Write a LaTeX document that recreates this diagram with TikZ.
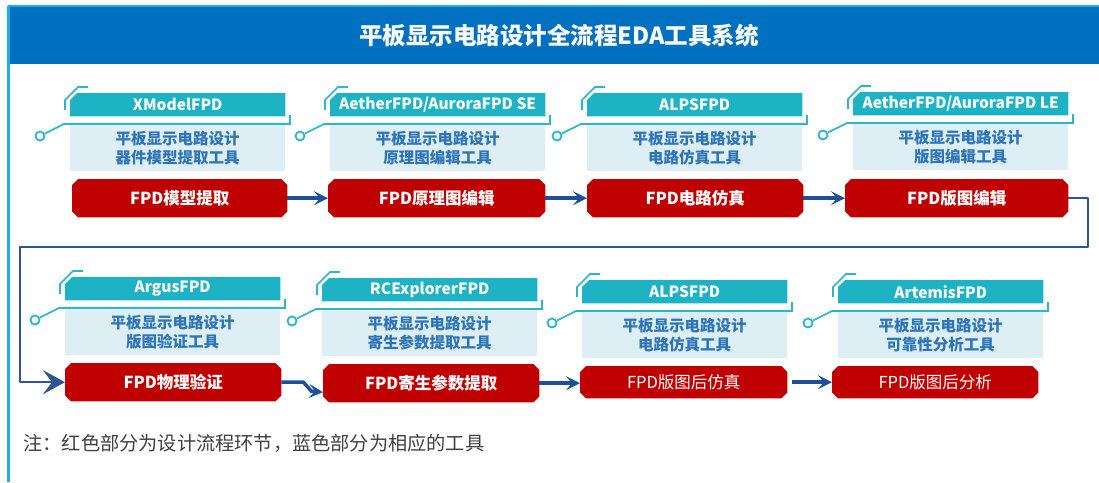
\documentclass[tikz,border=0pt]{standalone}
\usepackage{fontspec}
\setmainfont{Noto Sans CJK SC}
\usetikzlibrary{arrows.meta,calc,backgrounds}
\definecolor{titleblue}{HTML}{0070C0}
\definecolor{frameblue}{HTML}{1CB0EA}
\definecolor{hdrteal}{HTML}{1DB3C4}
\definecolor{lineteal}{HTML}{2BB6C9}
\definecolor{toolbg}{HTML}{DDEEF4}
\definecolor{tooltext}{HTML}{2E75B6}
\definecolor{stepred}{HTML}{C00000}
\definecolor{arrowblue}{HTML}{1F4E9A}
\definecolor{loopblue}{HTML}{2F5597}
\definecolor{notegray}{HTML}{404040}
\tikzset{
  hdr/.style={text=white, minimum height=23pt, inner sep=0pt,
    font=\fontsize{15.5}{18}\selectfont\bfseries, anchor=north west},
  toolbox/.style={fill=toolbg, text=tooltext, minimum height=46pt, inner sep=0pt,
    align=center, font=\fontsize{15.5}{19.5}\selectfont\bfseries, anchor=north west},
  stepbox/.style={text=white, minimum height=38pt, inner sep=0pt,
    font=\fontsize{16.5}{18}\selectfont\bfseries, anchor=north west},
  tealline/.style={draw=lineteal, line width=1.6pt},
  dotnode/.style={circle, draw=lineteal, line width=1.8pt, fill=white,
    minimum size=9pt, inner sep=0pt},
  flowarrow/.style={draw=arrowblue, line width=3.5pt,
    -{Stealth[length=14pt, width=14pt, inset=6pt]}},
  loopline/.style={draw=loopblue, line width=2.5pt, line join=round,
    -{Stealth[length=22pt, width=24pt, inset=9pt]}},
}
% chamfered fills behind named nodes
\newcommand\redoct[1]{%
  \fill[stepred] ([xshift=6pt]#1.north west) -- ([xshift=-6pt]#1.north east)
    -- ([yshift=-6pt]#1.north east) -- ([yshift=6pt]#1.south east)
    -- ([xshift=-6pt]#1.south east) -- ([xshift=6pt]#1.south west)
    -- ([yshift=6pt]#1.south west) -- ([yshift=-6pt]#1.north west) -- cycle;}
\newcommand\hdrshape[1]{%
  \fill[hdrteal] ([xshift=7pt]#1.north west) -- (#1.north east)
    -- (#1.south east) -- (#1.south west) -- ([yshift=-7pt]#1.north west) -- cycle;}
\newcommand\fpdmodule[8]{%
  \begin{scope}[shift={(#2,#3)}]
    \draw[tealline] (18,-6) -- (8,-6) -- (-5,7) -- (-5,17);
    \node[hdr, minimum width=#4pt] (h#1) at (0,0) {#6};
    \node[toolbox, minimum width=#4pt] (t#1) at (0,32) {平板显示电路设计\\#7};
    \node[dotnode] (c#1) at (-30,43) {};
    \draw[tealline] (c#1) -- (-6,31) -- ({#4+5},31) -- ({#4+5},22);
    \node[stepbox, #5] (s#1) {#8};
    \begin{scope}[on background layer]
      \hdrshape{h#1}
      \redoct{s#1}
    \end{scope}
  \end{scope}}
\begin{document}
\begin{tikzpicture}[x=1pt,y=-1pt]
\useasboundingbox (0,0) rectangle (1099,482);
\begin{scope}[on background layer]
  \fill[white] (0,0) rectangle (1099,482);
\end{scope}
% frame and title
\draw[frameblue, line width=1.2pt] (8,6) -- (1099,6);
\fill[titleblue] (8,6.5) rectangle (1099,64);
\draw[frameblue, line width=2.5pt] (8.5,6) -- (8.5,482);
\node[text=white, font=\fontsize{23.5}{27}\selectfont\bfseries] (title) at (559,36) {平板显示电路设计全流程EDA工具系统};
% row 1
\fpdmodule{1}{70}{93}{215}{at={(2,86)}, minimum width=215pt}{XModelFPD}{器件模型提取工具}{FPD模型提取}
\fpdmodule{2}{330}{93}{215}{at={(-2,86)}, minimum width=217pt}{AetherFPD/AuroraFPD SE}{原理图编辑工具}{FPD原理图编辑}
\fpdmodule{3}{587}{93}{215}{at={(0,86)}, minimum width=216pt}{ALPSFPD}{电路仿真工具}{FPD电路仿真}
\fpdmodule{4}{853}{92}{215}{at={(-8,87)}, minimum width=223pt}{AetherFPD/AuroraFPD LE}{版图编辑工具}{FPD版图编辑}
% row 2
\fpdmodule{5}{65}{277}{215}{at={(0,86)}, minimum width=216pt}{ArgusFPD}{版图验证工具}{FPD物理验证}
\fpdmodule{6}{322}{278}{215}{at={(1,86)}, minimum width=216pt}{RCExplorerFPD}{寄生参数提取工具}{FPD寄生参数提取}
\fpdmodule{7}{582}{280}{205}{at={(-2,86)}, minimum width=207pt, minimum height=32pt}{ALPSFPD}{电路仿真工具}{\mdseries FPD版图后仿真}
\fpdmodule{8}{838}{280}{205}{at={(-6,86)}, minimum width=206pt, minimum height=32pt}{ArtemisFPD}{可靠性分析工具}{\mdseries FPD版图后分析}
% flow arrows
\draw[flowarrow] (s1) -- (s2);
\draw[flowarrow] (s2) -- (s3);
\draw[flowarrow] (s3) -- (s4);
\coordinate (l1) at (1088,247);
\coordinate (l2) at (20,247);
\draw[loopline] (s4.east) -| (l1) -- (l2) |- (s5.west);
\draw[flowarrow] (s5.east) -- ++(22,0) -- ++(8,9) -- ($(s6.west)+(0,9)$);
\draw[flowarrow] (s6.east) -- (s6.east -| s7.west);
\draw[flowarrow] ($(s7.east)+(5,0)$) -- (s8.west);
% note
\node[anchor=west, text=notegray, font=\fontsize{19.2}{22}\selectfont] (note) at (20,443) {注：红色部分为设计流程环节，蓝色部分为相应的工具};
\end{tikzpicture}
\end{document}
